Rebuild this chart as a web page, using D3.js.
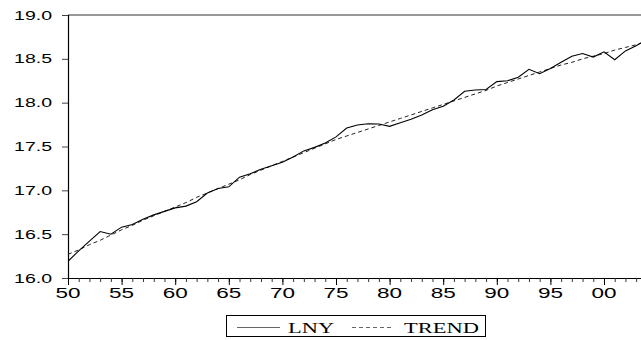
<!DOCTYPE html>
<html>
<head>
<meta charset="utf-8">
<script src="https://cdn.jsdelivr.net/npm/d3@7"></script>
<style>
  body { margin: 0; background: #fff; }
  svg { display: block; }
</style>
</head>
<body>
<svg id="chart"></svg>
<script>
const years = d3.range(1950, 2005);
const lny = [16.19, 16.31, 16.42, 16.53, 16.50, 16.58, 16.61, 16.67, 16.72, 16.76,
  16.80, 16.82, 16.87, 16.97, 17.02, 17.04, 17.15, 17.19, 17.24, 17.28,
  17.32, 17.38, 17.45, 17.49, 17.54, 17.61, 17.71, 17.745, 17.76, 17.757,
  17.73, 17.77, 17.81, 17.86, 17.92, 17.96, 18.03, 18.13, 18.145, 18.15,
  18.24, 18.25, 18.29, 18.38, 18.33, 18.39, 18.46, 18.53, 18.56, 18.52,
  18.58, 18.49, 18.59, 18.65, 18.72];
const trend = [16.27, 16.32, 16.38, 16.43, 16.49, 16.55, 16.60, 16.66, 16.71, 16.76,
  16.81, 16.86, 16.92, 16.97, 17.02, 17.07, 17.12, 17.18, 17.23, 17.28,
  17.33, 17.38, 17.43, 17.48, 17.53, 17.58, 17.62, 17.66, 17.70, 17.74,
  17.78, 17.82, 17.86, 17.90, 17.94, 17.98, 18.02, 18.06, 18.10, 18.14,
  18.19, 18.23, 18.27, 18.31, 18.35, 18.39, 18.43, 18.46, 18.50, 18.53,
  18.56, 18.60, 18.63, 18.66, 18.70];
const yTicks = [16.0, 16.5, 17.0, 17.5, 18.0, 18.5, 19.0];
const xMajor = [1950, 1955, 1960, 1965, 1970, 1975, 1980, 1985, 1990, 1995, 2000];
const xLabels = ['50', '55', '60', '65', '70', '75', '80', '85', '90', '95', '00'];
const seriesNames = ['LNY', 'TREND'];

const W = 641, H = 340;
const plotLeft = 68, plotTop = 15, plotBottom = 278;
const stretch = 1.5;

const svg = d3.select('#chart').attr('width', W).attr('height', H);

const x = d3.scaleLinear().domain([1950, 2000]).range([plotLeft, 604]);
const y = d3.scaleLinear().domain([16, 19]).range([plotBottom, plotTop]);

svg.append('clipPath').attr('id', 'plot')
  .append('rect').attr('x', plotLeft).attr('y', plotTop - 2)
  .attr('width', W - plotLeft).attr('height', plotBottom - plotTop + 4);

// top frame line
svg.append('line')
  .attr('x1', plotLeft).attr('x2', W).attr('y1', plotTop).attr('y2', plotTop)
  .attr('stroke', '#333').attr('stroke-width', 1.2);

// y axis
const yAxis = d3.axisLeft(y).tickValues(yTicks).tickSize(6).tickFormat('');
const gy = svg.append('g').attr('transform', `translate(${plotLeft},0)`).call(yAxis);
gy.select('.domain').attr('stroke', '#000').attr('stroke-width', 1.2);
gy.selectAll('.tick line').attr('stroke', '#444');

svg.selectAll('.ylab')
  .data(yTicks)
  .enter()
  .append('text')
  .attr('class', 'ylab')
  .attr('transform', (d) => `translate(52,${y(d) + 4.5}) scale(${stretch},1)`)
  .attr('text-anchor', 'end')
  .attr('font-family', 'Liberation Sans, Arial, sans-serif')
  .attr('font-size', 13)
  .text((d) => d.toFixed(1));

// x axis: minor ticks every year, longer ones every 5
const gxMinor = svg.append('g').attr('transform', `translate(0,${plotBottom})`)
  .call(d3.axisBottom(x).tickValues(years).tickSize(4).tickFormat('').tickSizeOuter(0));
gxMinor.select('.domain').attr('d', `M${plotLeft},0.5H${W}`).attr('stroke', '#000').attr('stroke-width', 1.2);
gxMinor.selectAll('.tick line').attr('stroke', '#333');

const gxMajor = svg.append('g').attr('transform', `translate(0,${plotBottom})`)
  .call(d3.axisBottom(x).tickValues(xMajor).tickSize(7).tickFormat(''));
gxMajor.select('.domain').remove();
gxMajor.selectAll('.tick line').attr('stroke', '#000');

svg.selectAll('.xlab')
  .data(xMajor)
  .enter()
  .append('text')
  .attr('class', 'xlab')
  .attr('transform', (d) => `translate(${x(d)},298) scale(${stretch},1)`)
  .attr('text-anchor', 'middle')
  .attr('font-family', 'Liberation Sans, Arial, sans-serif')
  .attr('font-size', 15)
  .text((d, i) => xLabels[i]);

// series
const line = (vals) => d3.line()
  .x((d, i) => x(years[i]))
  .y((d) => y(d))(vals);

const plot = svg.append('g').attr('clip-path', 'url(#plot)');
plot.append('path')
  .attr('d', line(trend))
  .attr('fill', 'none')
  .attr('stroke', '#222')
  .attr('stroke-width', 1)
  .attr('stroke-dasharray', '4,3');
plot.append('path')
  .attr('d', line(lny))
  .attr('fill', 'none')
  .attr('stroke', '#000')
  .attr('stroke-width', 1.1);

// legend
const lg = svg.append('g');
lg.append('rect')
  .attr('x', 226.5).attr('y', 315.5).attr('width', 259).attr('height', 21)
  .attr('fill', '#fff').attr('stroke', '#000').attr('stroke-width', 1);
lg.append('line')
  .attr('x1', 237).attr('x2', 280).attr('y1', 327.5).attr('y2', 327.5)
  .attr('stroke', '#666').attr('stroke-width', 1);
lg.append('line')
  .attr('x1', 352).attr('x2', 394).attr('y1', 327.5).attr('y2', 327.5)
  .attr('stroke', '#666').attr('stroke-width', 1).attr('stroke-dasharray', '4,3');
[[288, seriesNames[0]], [404, seriesNames[1]]].forEach(([lx, name]) => {
  lg.append('text')
    .attr('transform', `translate(${lx},333) scale(${stretch},1)`)
    .attr('font-family', 'Liberation Serif, Times New Roman, serif')
    .attr('font-size', 15)
    .text(name);
});
</script>
</body>
</html>
